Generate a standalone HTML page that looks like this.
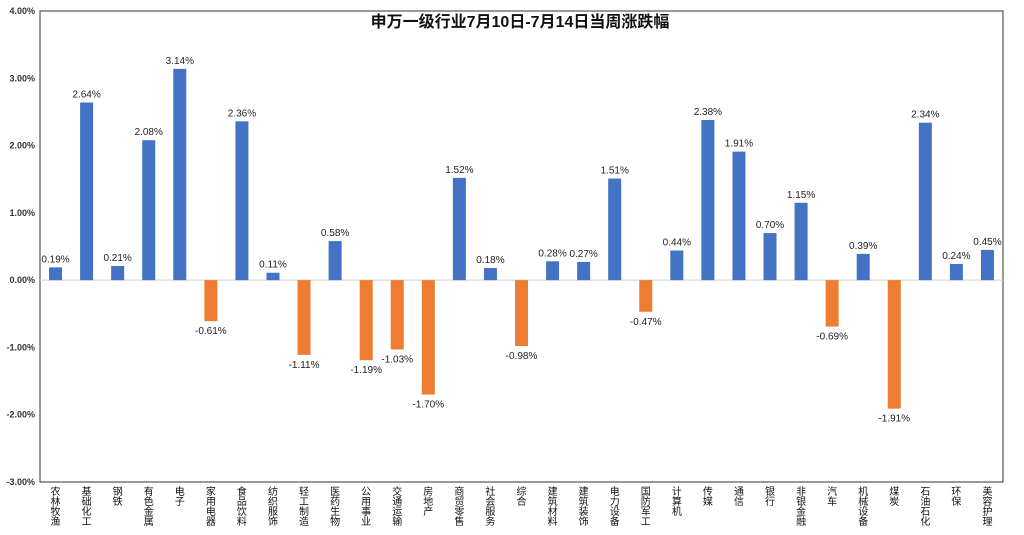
<!DOCTYPE html>
<html><head><meta charset="utf-8"><style>
html,body{margin:0;padding:0;background:#fff;}
svg text{font-family:"Liberation Sans","Noto Sans CJK SC",sans-serif;}
</style></head><body>
<svg id="chart" width="1024" height="530" xmlns="http://www.w3.org/2000/svg">
<rect x="0" y="0" width="1024" height="530" fill="#fff"/>
<rect x="40" y="11" width="963" height="471" fill="none" stroke="#333" stroke-width="1"/>
<text x="520" y="27" text-anchor="middle" font-size="16" font-weight="bold" fill="#111">申万一级行业7月10日-7月14日当周涨跌幅</text>
<g id="yaxis"></g><g id="bars"></g><g id="xlabels"></g>
</svg>
<script>
const categories=["农林牧渔","基础化工","钢铁","有色金属","电子","家用电器","食品饮料","纺织服饰","轻工制造","医药生物","公用事业","交通运输","房地产","商贸零售","社会服务","综合","建筑材料","建筑装饰","电力设备","国防军工","计算机","传媒","通信","银行","非银金融","汽车","机械设备","煤炭","石油石化","环保","美容护理"];
const values=[0.19,2.64,0.21,2.08,3.14,-0.61,2.36,0.11,-1.11,0.58,-1.19,-1.03,-1.70,1.52,0.18,-0.98,0.28,0.27,1.51,-0.47,0.44,2.38,1.91,0.70,1.15,-0.69,0.39,-1.91,2.34,0.24,0.45];
const yTicks=[4,3,2,1,0,-1,-2,-3];
const NS="http://www.w3.org/2000/svg";
const L=40,R=1003,T=11,B=482,ymin=-3,ymax=4;
const y=v=>T+(ymax-v)/(ymax-ymin)*(B-T);
const bw=(R-L)/categories.length;
const x=i=>L+bw*(i+0.5);
function mk(tag,attrs,parent){const e=document.createElementNS(NS,tag);for(const k in attrs)e.setAttribute(k,attrs[k]);parent.appendChild(e);return e;}
const ya=document.getElementById('yaxis');
yTicks.forEach(t=>{
  const tx=mk('text',{x:L-5,y:y(t)+3,'text-anchor':'end','font-size':'9','fill':'#333','font-weight':'bold'},ya);
  
  
  tx.textContent=t.toFixed(2)+'%';
});
const zl=mk('line',{x1:L,x2:R,y1:y(0),y2:y(0),stroke:'#d0d0d0','stroke-width':1},ya);


const bg=document.getElementById('bars');
const xg=document.getElementById('xlabels');
values.forEach((v,i)=>{
  const y0=y(0),y1=y(v);
  const r=mk('rect',{x:x(i)-6.5,width:13,y:Math.min(y0,y1),height:Math.abs(y1-y0),fill:v>=0?'#4472C4':'#ED7D31'},bg);
  
  
  const lt=mk('text',{x:x(i),y:v>=0?y1-5:y1+13,'text-anchor':'middle','font-size':'10','fill':'#222'},bg);
  
  
  lt.textContent=v.toFixed(2)+'%';
  const ct=mk('text',{x:x(i),y:495,'text-anchor':'middle','font-size':'10','fill':'#111'},xg);
  
  
  [...categories[i]].forEach((c,k)=>{const s=mk('tspan',{x:x(i),y:495+k*10},ct);s.textContent=c;});
});
</script>
</body></html>
